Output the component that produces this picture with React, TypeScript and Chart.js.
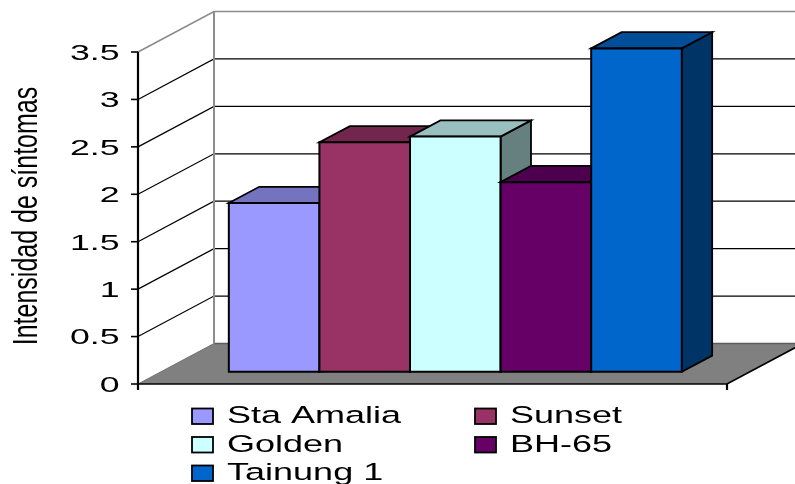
import React, { useEffect, useRef } from "react";
import { Chart, registerables } from "chart.js";

Chart.register(...registerables);

// ---- data ----
const categories = [""];
const seriesNames = ["Sta Amalia", "Sunset", "Golden", "BH-65", "Tainung 1"];
const seriesValues = [1.78, 2.42, 2.48, 2.0, 3.41];
const seriesColors = ["#9999FF", "#993366", "#CCFFFF", "#660066", "#0066CC"];
const yTickValues = [0, 0.5, 1, 1.5, 2, 2.5, 3, 3.5];
const yTickLabels = ["0", "0.5", "1", "1.5", "2", "2.5", "3", "3.5"];
const yAxisTitle = "Intensidad de síntomas";

// ---- geometry of the 3D box ----
const W = 795;
const H = 484;
const DEPTH_X = 76; // horizontal shift from the front plane to the back wall
const DEPTH_Y = -40.5; // vertical shift from the front plane to the back wall
const BAR_FRONT = 0.3; // bar front face, as a fraction of the depth
const BAR_BACK = 0.7; // bar back face
const FONT = '"Liberation Sans", Arial, sans-serif';

function shade(hex: string, f: number): string {
  const n = parseInt(hex.slice(1), 16);
  const r = Math.round(((n >> 16) & 255) * f);
  const g = Math.round(((n >> 8) & 255) * f);
  const b = Math.round((n & 255) * f);
  return `rgb(${r},${g},${b})`;
}

function poly(ctx: CanvasRenderingContext2D, pts: number[][], fill: string | null, stroke: string | null, lw = 1) {
  ctx.beginPath();
  ctx.moveTo(pts[0][0], pts[0][1]);
  for (let i = 1; i < pts.length; i++) ctx.lineTo(pts[i][0], pts[i][1]);
  ctx.closePath();
  if (fill) {
    ctx.fillStyle = fill;
    ctx.fill();
  }
  if (stroke) {
    ctx.strokeStyle = stroke;
    ctx.lineWidth = lw;
    ctx.stroke();
  }
}

function line(ctx: CanvasRenderingContext2D, pts: number[][], color: string, lw: number) {
  ctx.beginPath();
  ctx.moveTo(pts[0][0], pts[0][1]);
  for (let i = 1; i < pts.length; i++) ctx.lineTo(pts[i][0], pts[i][1]);
  ctx.strokeStyle = color;
  ctx.lineWidth = lw;
  ctx.stroke();
}

// Text widened horizontally, as the labels of this chart are.
function stretchedText(
  ctx: CanvasRenderingContext2D,
  text: string,
  x: number,
  y: number,
  size: number,
  sx: number,
  align: CanvasTextAlign,
  baseline: CanvasTextBaseline
) {
  ctx.save();
  ctx.translate(x, y);
  ctx.scale(sx, 1);
  ctx.font = `${size}px ${FONT}`;
  ctx.fillStyle = "#000";
  ctx.textAlign = align;
  ctx.textBaseline = baseline;
  ctx.fillText(text, 0, 0);
  ctx.restore();
}

// Walls, floor, gridlines and the value axis.
const boxPlugin = {
  id: "box3d",
  beforeDraw(chart: any) {
    const { ctx, chartArea: a, scales } = chart;
    const y = scales.y;
    const left = a.left;
    const right = a.right;
    const y0 = y.getPixelForValue(yTickValues[0]);
    const yTop = y.getPixelForValue(yTickValues[yTickValues.length - 1]);
    const farX = W + 20;

    ctx.save();
    ctx.lineCap = "butt";
    ctx.lineJoin = "miter";

    // floor
    poly(
      ctx,
      [
        [left, y0],
        [right, y0],
        [right + DEPTH_X, y0 + DEPTH_Y],
        [left + DEPTH_X, y0 + DEPTH_Y],
      ],
      "#808080",
      null
    );
    line(ctx, [[left + DEPTH_X, y0 + DEPTH_Y], [farX, y0 + DEPTH_Y]], "#5c5c5c", 1.3);
    line(ctx, [[left, y0], [left + DEPTH_X, y0 + DEPTH_Y]], "#707070", 1);

    // gridlines across the side wall and the back wall
    for (const v of yTickValues) {
      if (v === yTickValues[0] || v === yTickValues[yTickValues.length - 1]) continue;
      const py = y.getPixelForValue(v);
      line(ctx, [[left, py], [left + DEPTH_X, py + DEPTH_Y], [farX, py + DEPTH_Y]], "#000", 1.2);
    }

    // wall edges
    line(ctx, [[left, yTop], [left + DEPTH_X, yTop + DEPTH_Y], [farX, yTop + DEPTH_Y]], "#8c8c8c", 1.7);
    line(ctx, [[left + DEPTH_X, yTop + DEPTH_Y], [left + DEPTH_X, y0 + DEPTH_Y]], "#8c8c8c", 2);

    // front and right floor edges
    line(ctx, [[left, y0], [right, y0], [right + DEPTH_X, y0 + DEPTH_Y]], "#000", 1.7);

    // category boundary tick
    line(ctx, [[right, y0], [right, y0 + 6]], "#000", 2.2);

    // value axis
    line(ctx, [[left, yTop], [left, y0 + 6]], "#000", 2.2);
    yTickValues.forEach((v, i) => {
      const py = y.getPixelForValue(v);
      line(ctx, [[left - 7, py], [left, py]], "#000", 1.6);
      stretchedText(ctx, yTickLabels[i], left - 18.5, py + 2, 21.5, 1.66, "right", "middle");
    });

    // axis title
    ctx.save();
    ctx.translate(37, 216);
    ctx.scale(1.38, 1);
    ctx.rotate(-Math.PI / 2);
    ctx.font = `25px ${FONT}`;
    ctx.fillStyle = "#000";
    ctx.textAlign = "center";
    ctx.textBaseline = "alphabetic";
    ctx.fillText(yAxisTitle, 0, 0);
    ctx.restore();

    ctx.restore();
  },
  // flat bars are replaced by the 3D columns below
  beforeDatasetDraw() {
    return false;
  },
  afterDatasetsDraw(chart: any) {
    const { ctx } = chart;
    const fx = BAR_FRONT * DEPTH_X;
    const fy = BAR_FRONT * DEPTH_Y;
    const bx = BAR_BACK * DEPTH_X;
    const by = BAR_BACK * DEPTH_Y;
    ctx.save();
    ctx.lineJoin = "miter";
    chart.data.datasets.forEach((ds: any, i: number) => {
      const meta = chart.getDatasetMeta(i);
      const el = meta.data[0];
      if (!el) return;
      const p = el.getProps(["x", "y", "base", "width"], true);
      const l = p.x - p.width / 2;
      const r = p.x + p.width / 2;
      const t = p.y;
      const b = p.base;
      const c = ds.backgroundColor as string;
      // side face
      poly(ctx, [[r + fx, t + fy], [r + bx, t + by], [r + bx, b + by], [r + fx, b + fy]], shade(c, 0.5), "#000", 1.8);
      // top face
      poly(ctx, [[l + fx, t + fy], [l + bx, t + by], [r + bx, t + by], [r + fx, t + fy]], shade(c, 0.75), "#000", 1.8);
      // front face
      poly(ctx, [[l + fx, t + fy], [r + fx, t + fy], [r + fx, b + fy], [l + fx, b + fy]], c, "#000", 2);
    });
    ctx.restore();
  },
  afterDraw(chart: any) {
    const { ctx } = chart;
    const cols = [192, 475];
    const rows = [408.5, 437, 465.5];
    ctx.save();
    chart.data.datasets.forEach((ds: any, i: number) => {
      const bx = cols[i % 2];
      const by = rows[Math.floor(i / 2)];
      ctx.fillStyle = ds.backgroundColor;
      ctx.fillRect(bx, by, 21, 15.5);
      ctx.strokeStyle = "#000";
      ctx.lineWidth = 1.8;
      ctx.strokeRect(bx, by, 21, 15.5);
      stretchedText(ctx, ds.label, bx + 35, by + 14.5, 24.5, 1.47, "left", "alphabetic");
    });
    ctx.restore();
  },
};

export default function App() {
  const ref = useRef<HTMLCanvasElement | null>(null);

  useEffect(() => {
    document.body.style.margin = "0";
    const canvas = ref.current;
    if (!canvas) return;
    const chart = new Chart(canvas, {
      type: "bar",
      data: {
        labels: categories,
        datasets: seriesNames.map((name, i) => ({
          label: name,
          data: [seriesValues[i]],
          backgroundColor: seriesColors[i],
          borderColor: "#000",
          borderWidth: 1,
          categoryPercentage: 0.769,
          barPercentage: 1,
        })),
      },
      options: {
        responsive: false,
        animation: false,
        devicePixelRatio: 1,
        layout: { padding: { left: 138, right: W - 727, top: 52, bottom: H - 384 } },
        plugins: {
          legend: { display: false },
          tooltip: { enabled: false },
        },
        scales: {
          x: { display: false, offset: true },
          y: { display: false, min: yTickValues[0], max: yTickValues[yTickValues.length - 1] },
        },
      },
      plugins: [boxPlugin],
    } as any);
    return () => chart.destroy();
  }, []);

  return (
    <div style={{ position: "absolute", left: 0, top: 0, width: W, height: H, background: "#fff" }}>
      <canvas ref={ref} width={W} height={H} style={{ display: "block", width: W, height: H }} />
    </div>
  );
}
